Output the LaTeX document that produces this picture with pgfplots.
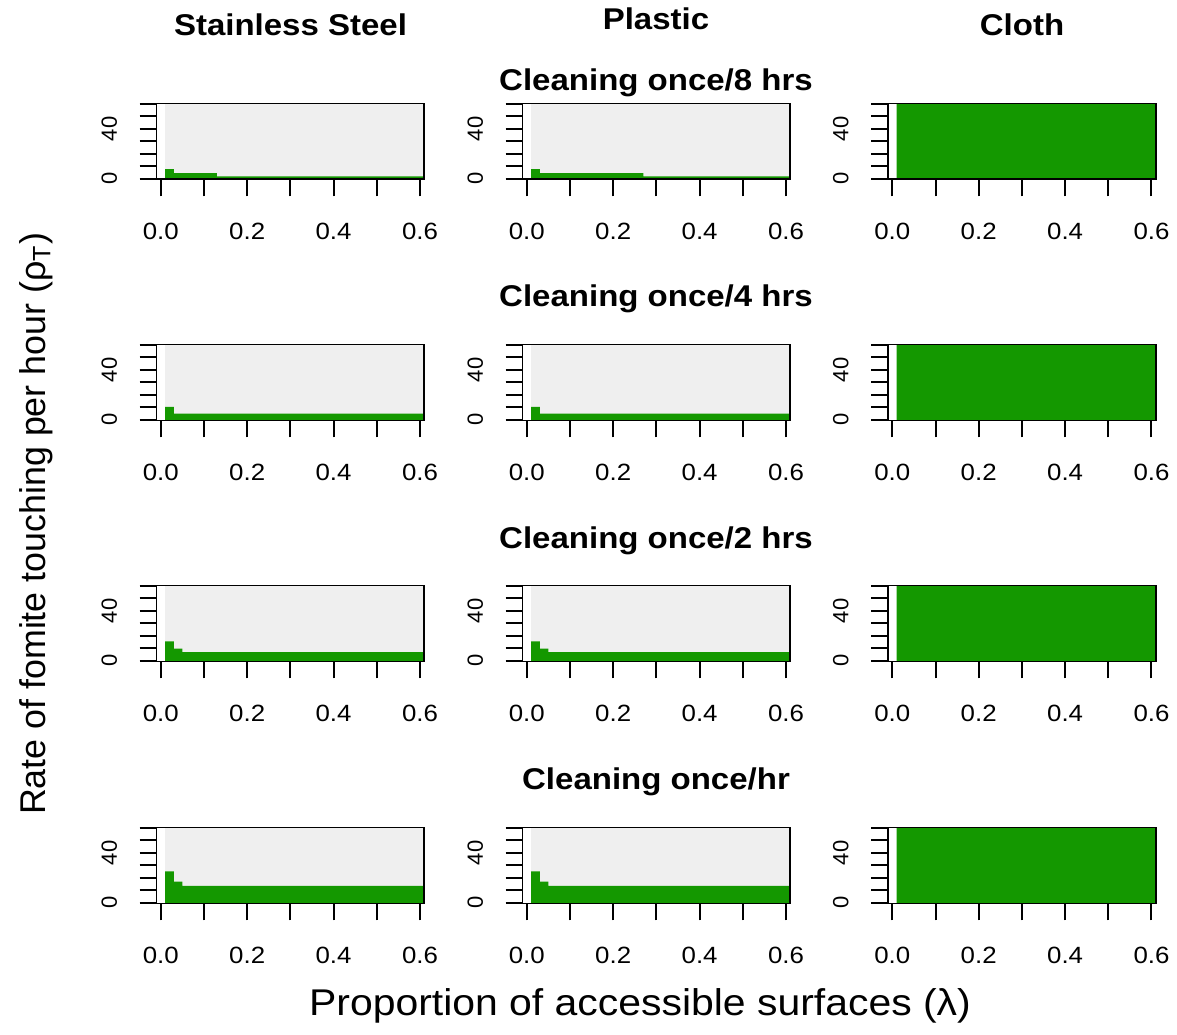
\documentclass[border=0pt]{standalone}
\usepackage{pgfplots}
\pgfplotsset{compat=1.18}
\usepackage{fontspec}
\setmainfont[FakeStretch=1.1]{Liberation Sans}
\newfontfamily\rotfont{Liberation Sans}
\definecolor{cellgreen}{RGB}{20,152,0}
\definecolor{cellgray}{RGB}{239,239,239}

\pgfplotsset{
  panel/.style={
    scale only axis, width=133.9pt, height=38pt, anchor=north west,
    xmin=-0.01, xmax=0.61, ymin=-0.5, ymax=60.5,
    axis on top,
    axis line style={line width=0.9pt},
    tick align=outside, major tick length=8.5pt,
    xtick pos=bottom, ytick pos=left,
    every tick/.style={black, line width=1pt},
    xtick={0,0.1,0.2,0.3,0.4,0.5,0.6},
    xticklabels={0.0,,0.2,,0.4,,0.6},
    ytick={0,10,20,30,40,50,60},
    yticklabels={0,,,,40,,},
    xticklabel style={font=\fontsize{11.75}{12}\selectfont, anchor=north, inner sep=0pt, yshift=-13pt},
    yticklabel style={font=\rotfont\fontsize{11}{11}\selectfont, xshift=-11pt, rotate=90, anchor=south, inner sep=0pt},
  },
  bg/.style={fill=cellgray, draw=none},
  cells/.style={const plot mark left, fill=cellgreen, draw=none},
}

\newcommand{\panel}[3]{%
  \begin{axis}[panel, at={(#1,#2)}]
    \addplot[bg] coordinates {(0.01,-0.5) (0.01,60.5) (0.61,60.5) (0.61,-0.5)};
    \addplot[cells] coordinates {#3};
  \end{axis}}

\begin{document}
\begin{tikzpicture}
  \useasboundingbox (0,0) rectangle (588.5pt,-517pt);

  % row 1: once / 8 hrs
  \panel{78.25pt}{-51.7pt}{(0.01,-0.5) (0.01,7.8) (0.03,4.5) (0.13,1.9) (0.61,1.9) (0.61,-0.5)}
  \panel{261.25pt}{-51.7pt}{(0.01,-0.5) (0.01,7.8) (0.03,4.5) (0.27,1.9) (0.61,1.9) (0.61,-0.5)}
  \panel{444pt}{-51.7pt}{(0.01,-0.5) (0.01,60.5) (0.61,60.5) (0.61,-0.5)}
  % row 2: once / 4 hrs
  \panel{78.25pt}{-172.2pt}{(0.01,-0.5) (0.01,10.3) (0.03,4.9) (0.61,4.9) (0.61,-0.5)}
  \panel{261.25pt}{-172.2pt}{(0.01,-0.5) (0.01,10.3) (0.03,4.9) (0.61,4.9) (0.61,-0.5)}
  \panel{444pt}{-172.2pt}{(0.01,-0.5) (0.01,60.5) (0.61,60.5) (0.61,-0.5)}
  % row 3: once / 2 hrs
  \panel{78.25pt}{-292.7pt}{(0.01,-0.5) (0.01,15.6) (0.03,9.7) (0.05,7) (0.61,7) (0.61,-0.5)}
  \panel{261.25pt}{-292.7pt}{(0.01,-0.5) (0.01,15.6) (0.03,9.7) (0.05,7) (0.61,7) (0.61,-0.5)}
  \panel{444pt}{-292.7pt}{(0.01,-0.5) (0.01,60.5) (0.61,60.5) (0.61,-0.5)}
  % row 4: once / hr
  \panel{78.25pt}{-413.7pt}{(0.01,-0.5) (0.01,25.3) (0.03,17) (0.05,13.5) (0.61,13.5) (0.61,-0.5)}
  \panel{261.25pt}{-413.7pt}{(0.01,-0.5) (0.01,25.3) (0.03,17) (0.05,13.5) (0.61,13.5) (0.61,-0.5)}
  \panel{444pt}{-413.7pt}{(0.01,-0.5) (0.01,60.5) (0.61,60.5) (0.61,-0.5)}

  \begin{scope}[every node/.style={inner sep=0pt, anchor=base, font=\bfseries\fontsize{15}{18}\selectfont}]
    \node at (145.25pt,-17.85pt) {Stainless Steel};
    \node at (328pt,-14.5pt) {Plastic};
    \node at (511pt,-17.85pt) {Cloth};
    \node at (328pt,-45.25pt) {Cleaning once/8 hrs};
    \node at (328pt,-153.35pt) {Cleaning once/4 hrs};
    \node at (328pt,-274pt) {Cleaning once/2 hrs};
    \node at (328pt,-394.75pt) {Cleaning once/hr};
  \end{scope}

  \node[inner sep=0pt, anchor=base, font=\fontsize{18.6}{20}\selectfont] at (320pt,-507.5pt) {Proportion of accessible surfaces (λ)};
  \node[inner sep=0pt, anchor=base, rotate=90, font=\rotfont\fontsize{17.9}{20}\selectfont] at (22.5pt,-262pt) {Rate of fomite touching per hour (ρ\textsubscript{T})};
\end{tikzpicture}
\end{document}
